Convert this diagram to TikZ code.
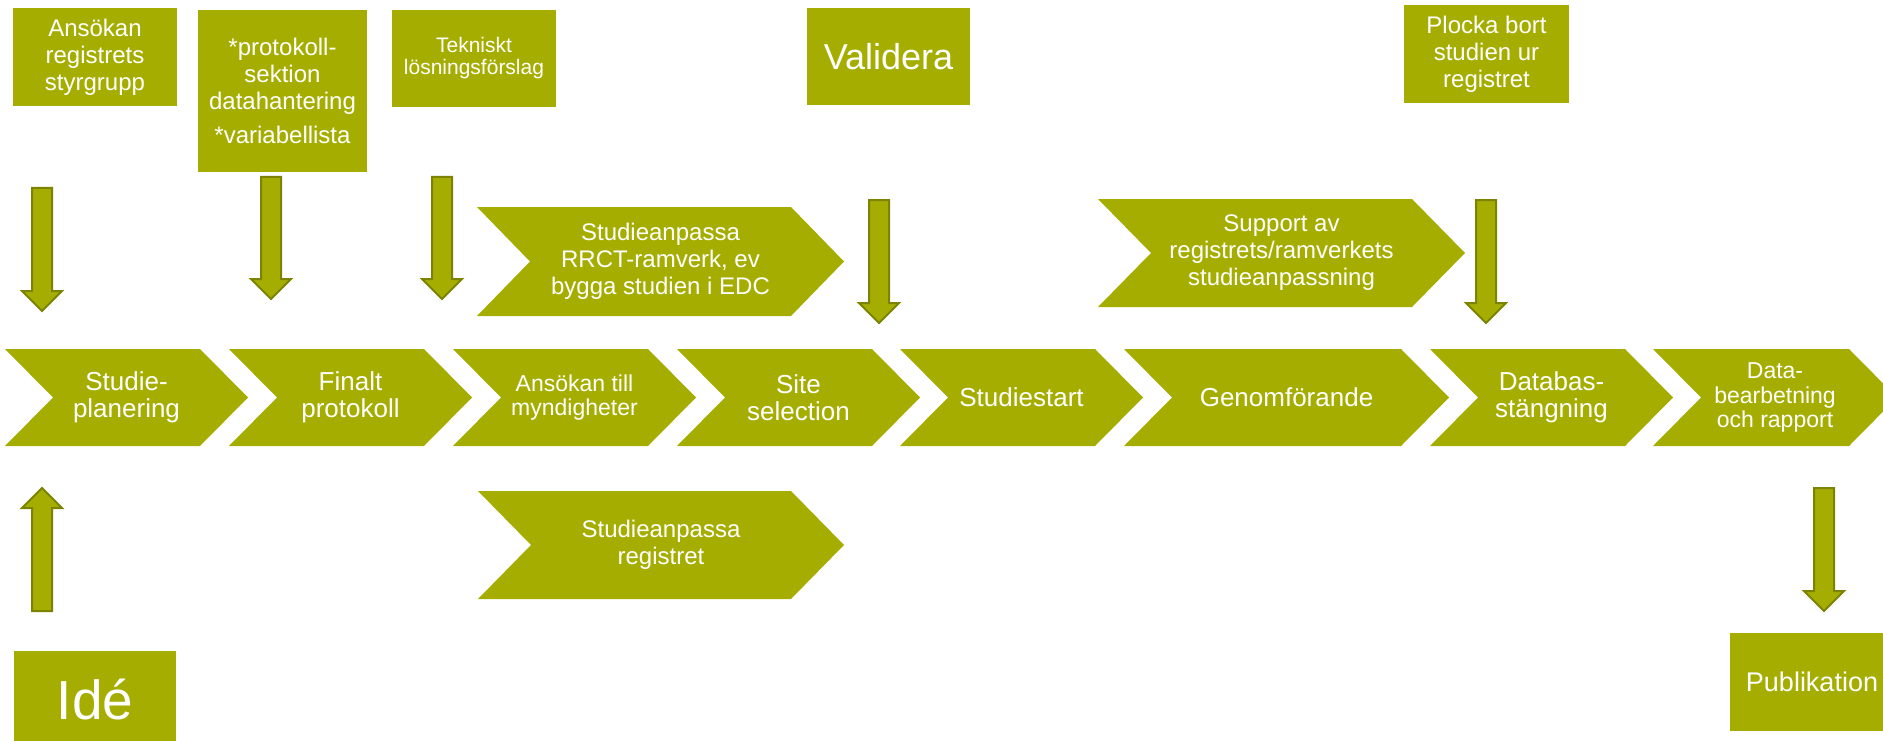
\documentclass[tikz,border=0pt]{standalone}
\usepackage{fontspec}
\setmainfont{Liberation Sans}
\usetikzlibrary{calc}

\definecolor{olivebox}{HTML}{A5AE00}
\definecolor{olivedark}{HTML}{7B8300}

\tikzset{
  box/.style={fill=olivebox, text=white, align=center, inner sep=0pt},
  chevtext/.style={text=white, align=center, inner sep=0pt, font=\fontsize{26}{27}\selectfont},
  midtext/.style={font=\fontsize{24}{27}\selectfont},
  smalltext/.style={font=\fontsize{23}{24.5}\selectfont},
  blockarr/.style={fill=olivebox, draw=olivedark, line width=2pt, line join=miter}
}

% chevron: [style] name, left x, top y, bottom y, right x, depth, text
\newcommand{\chevron}[8][]{%
  \fill[olivebox] (#3,#4) -- (#6,#4) -- ({#6+#7},{(#4+#5)/2}) -- (#6,#5) -- (#3,#5) -- ({#3+#7},{(#4+#5)/2}) -- cycle;
  \node[chevtext,#1] (#2) at ({(#3+#7+#6)/2},{(#4+#5)/2}) {#8};
}
% block arrow from coordinate to tip coordinate, head offset
\newcommand{\blockarrow}[3]{%
  \filldraw[blockarr] ($(#1)+(-10,0)$) -- ($(#2)+(-10,#3)$) -- ($(#2)+(-20,#3)$) -- (#2)
    -- ($(#2)+(20,#3)$) -- ($(#2)+(10,#3)$) -- ($(#1)+(10,0)$) -- cycle;
}

\begin{document}
\begin{tikzpicture}[x=1pt, y=-1pt]
  \path[use as bounding box, clip] (0,0) rectangle (1883,741);

  % top boxes
  \node[box, midtext, minimum width=164pt, minimum height=98pt] (ansokan) at (95,57) {Ansökan\\registrets\\styrgrupp};
  \node[box, midtext, minimum width=169pt, minimum height=162pt] (protokoll) at (282.5,91) {*protokoll-\\sektion\\datahantering\\[7pt]*variabellista};
  \node[box, font=\fontsize{21}{22}\selectfont, minimum width=164pt, minimum height=97pt] (tekniskt) at (474,58.5) {Tekniskt\\lösningsförslag};
  \node[box, font=\fontsize{36}{40}\selectfont, minimum width=163pt, minimum height=97pt] (validera) at (888.5,56.5) {Validera};
  \node[box, midtext, minimum width=165pt, minimum height=98pt] (plocka) at (1486.5,54) {Plocka bort\\studien ur\\registret};

  % bottom boxes
  \node[box, font=\fontsize{55}{60}\selectfont, minimum width=162pt, minimum height=98pt] (ide) at (95,700) {Idé};
  \node[box, font=\fontsize{27}{30}\selectfont, minimum width=164pt, minimum height=98pt] (publikation) at (1812,682) {Publikation};

  % process chevrons
  \chevron{planering}{5}{349}{446}{200}{48}{Studie-\\planering}
  \chevron{finalt}{229}{349}{446}{424}{48}{Finalt\\protokoll}
  \chevron[smalltext]{myndighet}{453}{349}{446}{648}{48}{Ansökan till\\myndigheter}
  \chevron{site}{677}{349}{446}{872}{48}{Site\\selection}
  \chevron{studiestart}{900}{349}{446}{1095}{48}{Studiestart}
  \chevron{genomforande}{1124}{349}{446}{1401}{48}{Genomförande}
  \chevron{databas}{1430}{349}{446}{1625}{48}{Databas-\\stängning}
  \chevron[smalltext]{rapport}{1653}{349}{446}{1849}{48}{Data-\\bearbetning\\och rapport}

  % side chevrons
  \chevron[midtext]{ramverk}{477}{207}{316}{791}{53}{Studieanpassa\\RRCT-ramverk, ev\\bygga studien i EDC}
  \chevron[midtext]{support}{1098}{199}{307}{1412}{53}{Support av\\registrets/ramverkets\\studieanpassning}
  \chevron[midtext]{registret}{478}{491}{599}{791}{53}{Studieanpassa\\registret}

  % arrows
  \coordinate (a1s) at (42,188);   \coordinate (a1e) at (42,311);
  \coordinate (a2s) at (271,177);  \coordinate (a2e) at (271,299);
  \coordinate (a3s) at (442,177);  \coordinate (a3e) at (442,299);
  \coordinate (a4s) at (879,200);  \coordinate (a4e) at (879,323);
  \coordinate (a5s) at (1486,200); \coordinate (a5e) at (1486,323);
  \coordinate (a6s) at (42,611);   \coordinate (a6e) at (42,488);
  \coordinate (a7s) at (1824,488); \coordinate (a7e) at (1824,611);
  \blockarrow{a1s}{a1e}{-20}
  \blockarrow{a2s}{a2e}{-20}
  \blockarrow{a3s}{a3e}{-20}
  \blockarrow{a4s}{a4e}{-20}
  \blockarrow{a5s}{a5e}{-20}
  \blockarrow{a6s}{a6e}{20}
  \blockarrow{a7s}{a7e}{-20}
\end{tikzpicture}
\end{document}
